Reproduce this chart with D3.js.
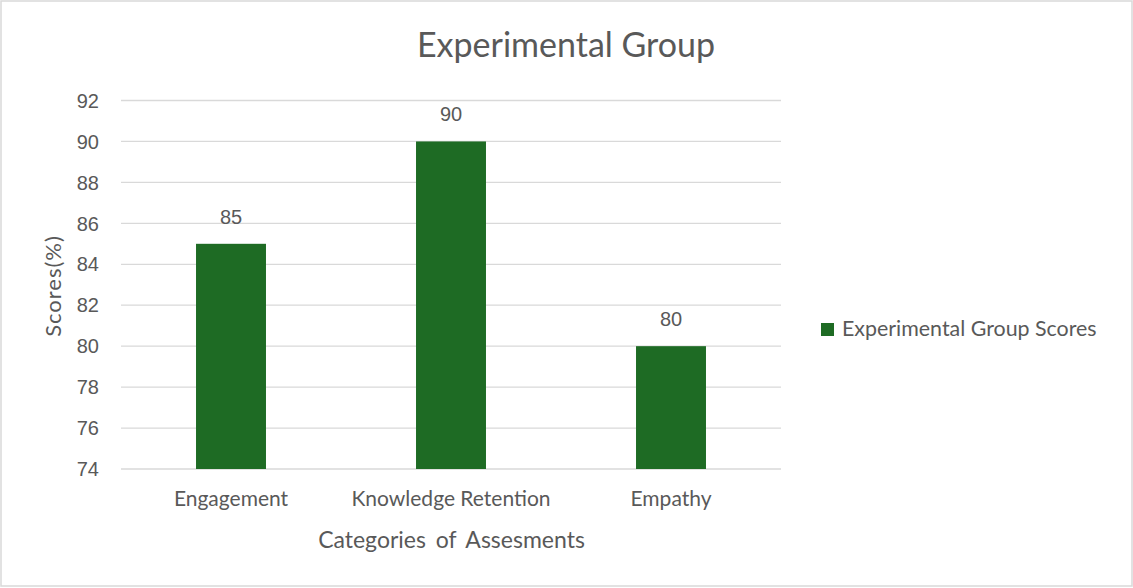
<!DOCTYPE html>
<html>
<head>
<meta charset="utf-8">
<script src="https://cdn.jsdelivr.net/npm/d3@7"></script>
<style>
  body { margin: 0; background: #fff; }
  text { fill: #595959; }
</style>
</head>
<body>
<script>
const categories = ["Engagement", "Knowledge Retention", "Empathy"];
const scores = [85, 90, 80];
const yTicks = [74, 76, 78, 80, 82, 84, 86, 88, 90, 92];
const seriesName = "Experimental Group Scores";

const width = 1133, height = 588,
    margin = {top: 100.5, left: 121, right: 352, bottom: 119};

const svg = d3.select("body")
    .append("svg")
    .attr("width", width)
    .attr("height", height);

// outer frame
svg.append("rect")
    .attr("x", 1).attr("y", 1)
    .attr("width", width - 2).attr("height", height - 3)
    .attr("fill", "#fff")
    .attr("stroke", "#d9d9d9")
    .attr("stroke-width", 1.5);

const x = d3.scaleBand()
    .domain(categories)
    .range([margin.left, width - margin.right])
    .paddingInner(0.682).paddingOuter(0.341);

const y = d3.scaleLinear()
    .domain([74, 92])
    .range([height - margin.bottom, margin.top]);

// gridlines
svg.append("g")
    .selectAll("line")
    .data(yTicks)
    .join("line")
    .attr("x1", margin.left)
    .attr("x2", width - margin.right)
    .attr("y1", d => y(d))
    .attr("y2", d => y(d))
    .attr("stroke", "#d9d9d9")
    .attr("stroke-width", 1.3);

// y tick labels
svg.append("g")
    .selectAll("text")
    .data(yTicks)
    .join("text")
    .attr("x", 99)
    .attr("y", d => y(d))
    .attr("dy", "0.36em")
    .attr("text-anchor", "end")
    .style("font", "20px 'Liberation Sans', Arial, sans-serif")
    .text(d => d);

// bars
svg.append("g")
    .selectAll("rect")
    .data(scores)
    .join("rect")
    .attr("x", (d, i) => x(categories[i]))
    .attr("y", d => y(d))
    .attr("width", x.bandwidth())
    .attr("height", d => y(74) - y(d))
    .attr("fill", "#1e6b24");

// value labels
svg.append("g")
    .selectAll("text")
    .data(scores)
    .join("text")
    .attr("x", (d, i) => x(categories[i]) + x.bandwidth() / 2)
    .attr("y", d => y(d) - 20)
    .attr("text-anchor", "middle")
    .style("font", "20px 'Liberation Sans', Arial, sans-serif")
    .text(d => d);

// category labels
svg.append("g")
    .selectAll("text")
    .data(categories)
    .join("text")
    .attr("x", d => x(d) + x.bandwidth() / 2)
    .attr("y", 506)
    .attr("text-anchor", "middle")
    .style("font", "21px Lato, sans-serif")
    .text(d => d);

// title
svg.append("text")
    .attr("x", 566)
    .attr("y", 57)
    .attr("text-anchor", "middle")
    .style("font", "34px Lato, sans-serif")
    .text("Experimental Group");

// axis titles
svg.append("text")
    .attr("x", 451.5)
    .attr("y", 548)
    .attr("text-anchor", "middle")
    .style("font", "23px Lato, sans-serif")
    .style("word-spacing", "4px")
    .text("Categories of Assesments");

svg.append("text")
    .attr("transform", "translate(61,286) rotate(-90)")
    .attr("text-anchor", "middle")
    .style("font", "22px Lato, sans-serif")
    .style("letter-spacing", "1px")
    .text("Scores(%)");

// legend
const legend = svg.append("g").attr("transform", "translate(821,323)");
legend.append("rect")
    .attr("width", 13).attr("height", 13)
    .attr("fill", "#1e6b24");
legend.append("text")
    .attr("x", 21).attr("y", 13)
    .style("font", "21.4px Lato, sans-serif")
    .text(seriesName);
</script>
</body>
</html>
